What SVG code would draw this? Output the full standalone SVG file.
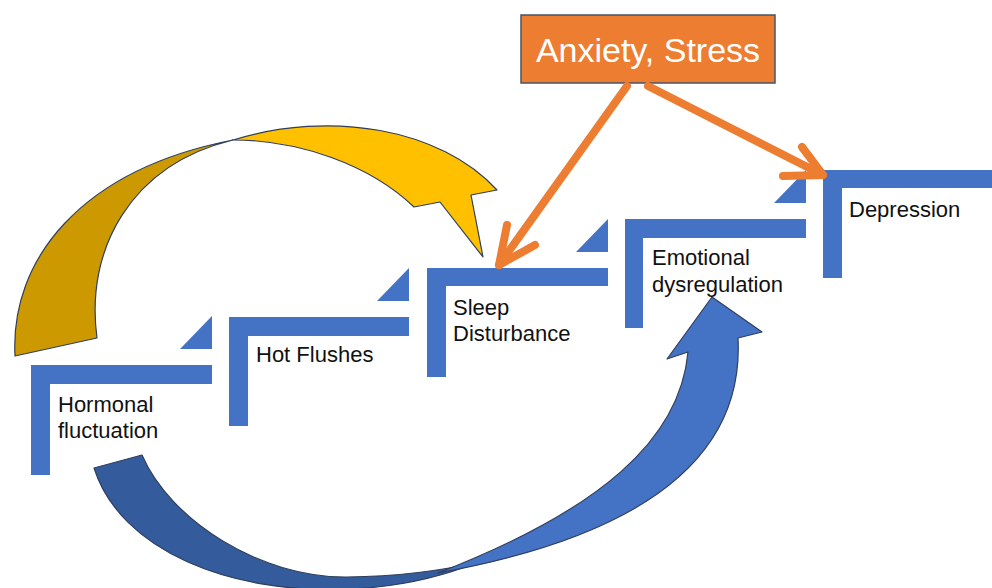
<svg xmlns="http://www.w3.org/2000/svg" width="992" height="588" viewBox="0 0 992 588">
<style>
.step{fill:#4472C4}
.lbl{font-family:"Liberation Sans",Arial,sans-serif;font-size:22px;fill:#111}
.orange{fill:none;stroke:#ED7D31;stroke-width:8;stroke-linecap:round;stroke-linejoin:round}
.outline{stroke:#2F3E5C;stroke-width:1.2;stroke-linejoin:round}
</style>
<rect width="992" height="588" fill="#fff"/>
<g id="connectors-curved">
  <g id="yellow-arrow">
    <path class="outline" fill="#CC9A00" d="M15,356 C10,260 80,170 233,140 C130,165 85,250 97,338 Z"/>
    <path class="outline" fill="#FFC000" d="M233,140 C330,110 440,128 497,190 L471,195 L483,257 L440,202 L414,207 C370,165 300,140 233,140 Z"/>
  </g>
  <g id="blue-arrow">
    <path class="outline" fill="#345C9C" d="M94,468 C120,550 230,595 350,589 Q420,586 478,562 Q420,576 347,577 C260,578 170,520 142,455 Z"/>
    <path class="outline" fill="#4472C4" d="M438,573 C620,540 745,470 738,338 L762,332 L712,297 L667,359 L688,352 C680,440 600,510 438,573 Z"/>
  </g>
</g>
<g id="step-hormonal">
  <path class="step" d="M31,365 h181 v19 h-162 v91 h-19 Z"/>
  <path class="step" d="M180,349 L212,316 L212,349 Z"/>
  <text class="lbl" x="58" y="412">Hormonal</text>
  <text class="lbl" x="58" y="438">fluctuation</text>
</g>
<g id="step-hot-flushes">
  <path class="step" d="M229,317 h180 v19 h-161 v90 h-19 Z"/>
  <path class="step" d="M377,301 L409,268 L409,301 Z"/>
  <text class="lbl" x="256" y="362">Hot Flushes</text>
</g>
<g id="step-sleep">
  <path class="step" d="M427,268 h181 v18 h-162 v91 h-19 Z"/>
  <path class="step" d="M576,252 L608,219 L608,252 Z"/>
  <text class="lbl" x="453" y="315">Sleep</text>
  <text class="lbl" x="453" y="341">Disturbance</text>
</g>
<g id="step-emotional">
  <path class="step" d="M625,219 h181 v19 h-163 v90 h-18 Z"/>
  <path class="step" d="M774,203 L806,170 L806,203 Z"/>
  <text class="lbl" x="652" y="265">Emotional</text>
  <text class="lbl" x="652" y="292">dysregulation</text>
</g>
<g id="step-depression">
  <path class="step" d="M823,170 H992 v18 H842 v90 h-19 Z"/>
  <text class="lbl" x="849" y="217">Depression</text>
</g>
<g id="anxiety-stress">
  <rect x="521" y="15" width="254" height="68" fill="#ED7D31" stroke="#44546A" stroke-width="1.5"/>
  <text x="648" y="62" text-anchor="middle" font-family="Liberation Sans, Arial, sans-serif" font-size="34" fill="#fff">Anxiety, Stress</text>
</g>
<g id="connectors">
  <path class="orange" d="M627,86 L499,265"/>
  <path class="orange" d="M507,225 L499,265 L535,245"/>
  <path class="orange" d="M648,86 L823,175"/>
  <path class="orange" d="M802,147 L823,175 L783,176"/>
</g>
</svg>
